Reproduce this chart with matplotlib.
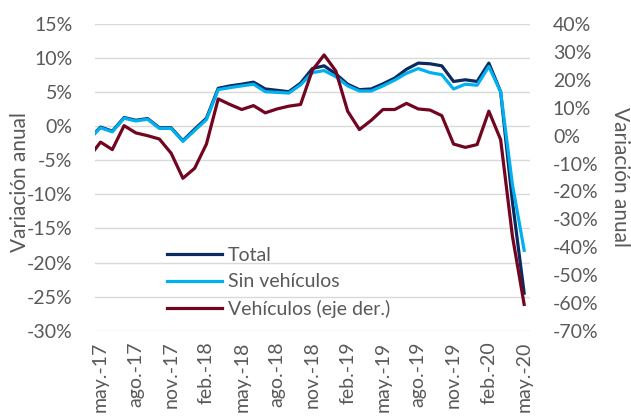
import matplotlib
matplotlib.use("Agg")
import matplotlib.pyplot as plt
import numpy as np

plt.rcParams['font.family'] = ['Lato', 'DejaVu Sans']

# meses (abr.-17 solo asoma por el borde izquierdo)
meses = ['abr.-17', 'may.-17', 'jun.-17', 'jul.-17', 'ago.-17', 'sep.-17', 'oct.-17', 'nov.-17', 'dic.-17',
         'ene.-18', 'feb.-18', 'mar.-18', 'abr.-18', 'may.-18', 'jun.-18', 'jul.-18', 'ago.-18', 'sep.-18',
         'oct.-18', 'nov.-18', 'dic.-18', 'ene.-19', 'feb.-19', 'mar.-19', 'abr.-19', 'may.-19', 'jun.-19',
         'jul.-19', 'ago.-19', 'sep.-19', 'oct.-19', 'nov.-19', 'dic.-19', 'ene.-20', 'feb.-20', 'mar.-20',
         'abr.-20', 'may.-20']

total = [-1.9, -0.1, -0.7, 1.3, 0.9, 1.15, -0.2, -0.2, -2.1, -0.4, 1.2, 5.6, 5.95, 6.2, 6.5, 5.5, 5.3, 5.1,
         6.35, 8.5, 8.9, 7.7, 6.2, 5.4, 5.5, 6.25, 7.1, 8.4, 9.3, 9.2, 8.9, 6.6, 6.85, 6.6, 9.3, 5.1, -11.0, -24.5]
sin_vehiculos = [-2.0, -0.2, -0.8, 1.2, 0.8, 1.05, -0.3, -0.3, -2.2, -0.6, 1.0, 5.4, 5.7, 5.95, 6.2, 5.1, 5.0, 4.9,
                 6.1, 7.9, 8.2, 7.3, 5.95, 5.2, 5.2, 5.95, 6.8, 7.8, 8.5, 7.9, 7.6, 5.5, 6.2, 6.05, 8.8, 5.1, -8.5, -18.2]
vehiculos = [-7.9, -2.3, -5.0, 3.6, 1.0, 0.0, -1.2, -6.3, -15.3, -11.7, -3.0, 13.2, 11.2, 9.4, 10.8, 8.2, 9.6, 10.6,
             11.2, 23.5, 29.0, 23.2, 8.8, 2.2, 5.5, 9.4, 9.4, 11.6, 9.6, 9.2, 7.2, -3.0, -4.2, -3.2, 8.8, -1.4, -36.0, -60.6]

ticks_izq = [15, 10, 5, 0, -5, -10, -15, -20, -25, -30]
ticks_der = [40, 30, 20, 10, 0, -10, -20, -30, -40, -50, -60, -70]

gris = '#595959'
x = np.arange(len(meses))

fig = plt.figure(figsize=(6.31, 4.19), dpi=100)
ax = fig.add_axes([0.150, 0.211, 0.690, 0.731])
ax2 = ax.twinx()

l1, = ax.plot(x, total, color='#0B2A5E', lw=2.3, label='Total')
l2, = ax.plot(x, sin_vehiculos, color='#00B0F0', lw=2.3, label='Sin vehículos')
l3, = ax2.plot(x, vehiculos, color='#72051F', lw=2.3, label='Vehículos (eje der.)')

ax.set_xlim(0.5, len(meses) - 0.5)
ax.set_ylim(-30, 15)
ax2.set_ylim(-70, 40)
ax.set_yticks(ticks_izq)
ax.set_yticklabels([f'{t}%' for t in ticks_izq])
ax2.set_yticks(ticks_der)
ax2.set_yticklabels([f'{t}%' for t in ticks_der])
ax.set_xticks(x[1::3])
ax.set_xticklabels(meses[1::3], rotation=90)

ax.grid(axis='y', color='#D9D9D9', lw=1)
ax.set_axisbelow(True)
for a in (ax, ax2):
    for s in a.spines.values():
        s.set_visible(False)
    a.tick_params(length=0, labelsize=14, labelcolor=gris)
ax.tick_params(axis='y', pad=16)
ax2.tick_params(axis='y', pad=16.5)
ax.tick_params(axis='x', pad=8)

fig.text(0.032, 0.565, 'Variación anual', rotation=90, ha='center', va='center', fontsize=15, color=gris)
fig.text(0.983, 0.577, 'Variación anual', rotation=270, ha='center', va='center', fontsize=15, color=gris)

leg = ax.legend(handles=[l1, l2, l3], loc='upper left', bbox_to_anchor=(0.253, 0.43),
                bbox_transform=fig.transFigure, frameon=False, fontsize=14,
                handlelength=2.8, handletextpad=0.3, labelspacing=0.5, borderaxespad=0)
for t in leg.get_texts():
    t.set_color(gris)

fig.savefig('out.png', dpi=100)
